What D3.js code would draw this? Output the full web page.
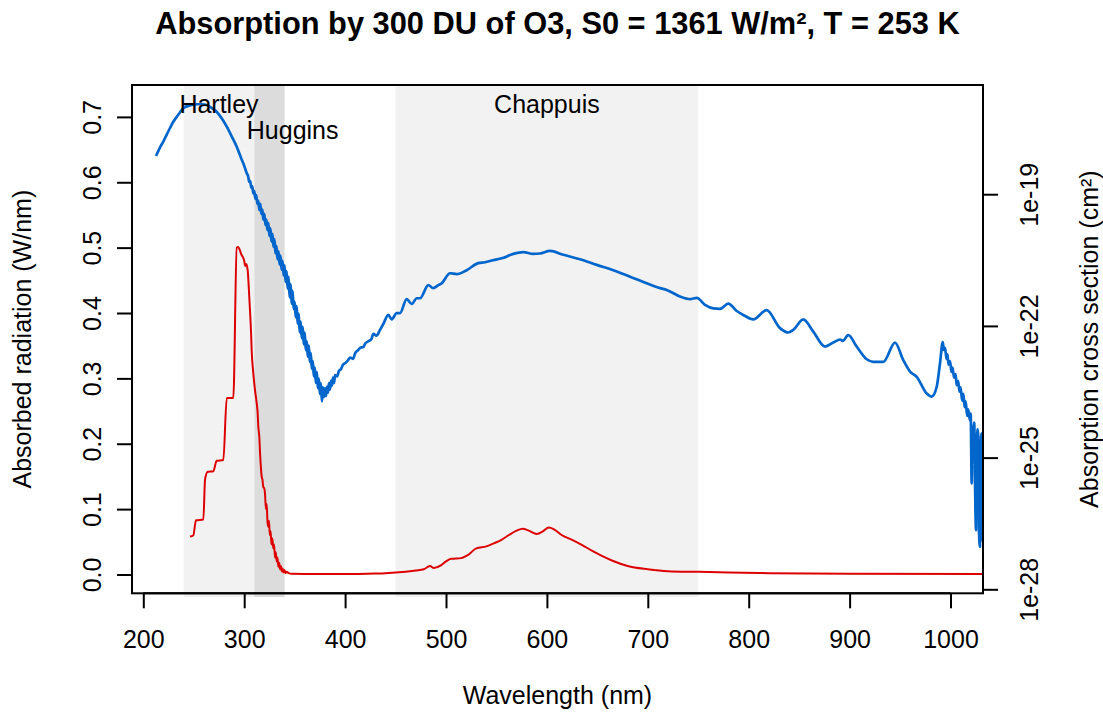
<!DOCTYPE html>
<html><head><meta charset="utf-8">
<script src="https://cdn.jsdelivr.net/npm/d3@7"></script>
<style>
body{margin:0;background:#fff}
svg{display:block}
text{font-family:"Liberation Sans",Arial,Helvetica,sans-serif;fill:#000}
</style>
</head><body>
<svg id="chart" width="1103" height="715"></svg>
<script>
// ---------------- data ----------------
const titleText = "Absorption by 300 DU of O3, S0 = 1361 W/m², T = 253 K";
const xLabel = "Wavelength (nm)";
const yLeftLabel = "Absorbed radiation (W/nm)";
const yRightLabel = "Absorption cross section (cm²)";

const xTicks = [200, 300, 400, 500, 600, 700, 800, 900, 1000];
const yLeftTicks = [0, 0.1, 0.2, 0.3, 0.4, 0.5, 0.6, 0.7];
const yLeftTickLabels = ["0.0", "0.1", "0.2", "0.3", "0.4", "0.5", "0.6", "0.7"];
const yRightTicks = [1e-28, 1e-25, 1e-22, 1e-19];
const yRightTickLabels = ["1e-28", "1e-25", "1e-22", "1e-19"];

const bandNames = ["Hartley", "Huggins", "Chappuis"];
const bandStart = [240, 310, 450];
const bandEnd = [310, 340, 750];
const bandLabelCenter = [275, 348, 600];
const bandLabelRow = [0, 1, 0];
const bandShade = ["#f2f2f2", "#dcdcdc", "#f2f2f2"];

// O3 absorption cross section (log10 of cm^2)
const sigmaWavelength = [
212.6,216,219.8,225,229.7,235,239.6,246,252.9,258,262.8,268,272.7,278,282.7,288,292.6,297,300,302.5,
304,305,306,307,308,309,310,311,312,313,314,315,316,317,318,319,320,321,322,323,324,325,326,327,328,329,
330,331,332,333,334,335,336,337,338,339,340,341,342,343,344,345,346,347,348,349,350,351,352,353,354,355,
356,357,358,359,360,361,362,363,364,365,366,367,368,369,370,371,372,373,374,375,376,377,378,379,380,381,
382,383,384,385,386,387,388,389,390,392,394,396,398,400,403,405,408,410,413,415,418,420,423,426,428,431,
434.6,438,442.8,446.2,451.1,454.4,461.0,466.0,471.0,474.2,482.5,487.4,492.4,495.7,504.0,510.6,520.5,532.0,
538.7,546.9,555.2,566.7,576.6,586.5,593.2,603.1,616.3,632.8,649.4,665.8,682.4,698.9,712.1,718.7,731.9,
741.8,748.5,756.7,764.9,771.6,779.8,788.1,794.6,804.6,817.8,831.0,839.2,844.2,854.1,864.0,875.6,883.8,
890.5,893.2,898.7,907.0,917.0,923.5,933.4,945.0,953.2,959.9,966.5,976.4,981.4,986.3,989.6,992.3,993.5,
994.6,996,997,998,999.5,1001,1002,1003.5,1005,1006.1,1007.5,1009,1010,1011.5,1012.7,1014,1015,1016.5,
1017.5,1019.3,1020,1021.0,1021.8,1022.6,1023.5,1024.3,1025.3,1026.0,1026.8,1027.5,1028.2,1029.2,1030,
1030.9,1031.7,1032.2];
const sigmaLog10 = [
-18.13,-17.96,-17.80,-17.56,-17.35,-17.18,-17.04,-16.98,-16.95,-16.95,-16.97,-17.04,-17.12,-17.28,-17.46,-17.70,-17.92,-18.18,-18.35,-18.52,
-18.60,-18.72,-18.70,-18.85,-18.82,-18.98,-18.93,-19.10,-19.02,-19.22,-19.15,-19.36,-19.22,-19.45,-19.35,-19.58,-19.45,-19.70,-19.58,-19.82,-19.66,-19.95,-19.78,-20.08,-19.90,-20.20,
-20.02,-20.35,-20.18,-20.48,-20.30,-20.60,-20.40,-20.72,-20.52,-20.85,-20.62,-21.00,-20.75,-21.15,-20.88,-21.35,-21.05,-21.50,-21.20,-21.62,-21.45,-21.80,-21.55,-21.95,-21.72,-22.15,
-21.90,-22.28,-22.02,-22.42,-22.15,-22.55,-22.35,-22.70,-22.45,-22.82,-22.62,-22.98,-22.80,-23.15,-22.95,-23.30,-23.05,-23.42,-23.20,-23.55,-23.30,-23.72,-23.40,-23.62,-23.42,-23.60,
-23.38,-23.52,-23.30,-23.45,-23.25,-23.36,-23.18,-23.30,-23.12,-23.15,-23.02,-22.98,-22.88,-22.85,-22.78,-22.72,-22.75,-22.62,-22.55,-22.50,-22.48,-22.40,-22.35,-22.30,-22.18,-22.22,
-22.09,-21.95,-21.75,-21.85,-21.71,-21.71,-21.39,-21.50,-21.37,-21.37,-21.07,-21.14,-21.07,-21.03,-20.80,-20.82,-20.73,-20.57,
-20.55,-20.50,-20.46,-20.36,-20.32,-20.36,-20.35,-20.29,-20.38,-20.48,-20.61,-20.73,-20.88,-21.03,-21.14,-21.18,-21.33,
-21.39,-21.36,-21.52,-21.60,-21.61,-21.49,-21.66,-21.75,-21.85,-21.64,-22.05,-22.15,-22.09,-21.85,-22.13,-22.47,-22.38,
-22.31,-22.34,-22.21,-22.47,-22.76,-22.82,-22.82,-22.38,-22.78,-23.04,-23.16,-23.54,-23.61,-23.39,-22.85,-22.37,-22.55,
-22.50,-22.75,-22.65,-22.88,-22.80,-23.05,-22.95,-23.18,-23.10,-23.35,-23.25,-23.50,-23.40,-23.70,-23.55,-23.85,-23.72,-24.05,
-23.90,-24.15,-24.00,-25.59,-24.30,-24.37,-24.20,-25.58,-26.65,-24.90,-24.35,-24.52,-26.65,-27.03,-24.60,
-24.45,-26.90,-24.50];

// Absorbed solar radiation (W/nm)
const absWavelength = [
246.3,249.6,252.2,259.5,261.2,263.8,269.4,272.7,279.3,282.7,289.2,292.6,294,295.5,297,298.5,300,301,302,303.5,
304.5,305.7,306.8,307.4,309,310.7,312.4,313.2,314,315,315.7,316.5,317.3,318.1,318.9,319.8,320.6,321.5,322.3,
323.1,323.9,324.6,325.4,326.2,327,327.9,328.8,329.6,330.5,331.3,332.2,333,333.8,334.7,335.5,336.4,337.2,338,
338.8,339.8,341,342.1,344,347,360,400,430,440,450,460,470,478,484,488,495,500,505,515,522,530,540,548,555,
562,570,576,582,590,596,602,607,615,625,635,645,655,665,680,700,720,750,780,820,900,1032.2];
const absWatts = [
0.058,0.060,0.083,0.084,0.145,0.157,0.158,0.174,0.175,0.270,0.270,0.500,0.501,0.497,0.490,0.486,0.480,0.472,0.475,0.465,
0.440,0.405,0.370,0.343,0.308,0.282,0.262,0.250,0.226,0.210,0.186,0.165,0.150,0.145,0.134,0.132,0.124,0.100,0.108,
0.080,0.073,0.082,0.060,0.066,0.046,0.055,0.040,0.046,0.026,0.034,0.020,0.026,0.012,0.018,0.008,0.013,0.005,0.009,
0.003,0.007,0.002,0.004,0.002,0.001,0.0008,0.0007,0.0015,0.002,0.003,0.004,0.006,0.008,0.013,0.010,0.014,0.020,0.024,0.025,0.030,0.040,0.043,0.048,0.053,
0.060,0.067,0.070,0.067,0.062,0.066,0.072,0.069,0.060,0.053,0.045,0.036,0.028,0.021,0.013,0.008,0.005,0.004,0.003,0.002,0.001,0.0008];

// ---------------- layout ----------------
const plotL = 132, plotR = 983, plotT = 85, plotB = 593.3;
const svg = d3.select("#chart");

const x = d3.scaleLinear().domain([188.8, 1032.2]).range([plotL, plotR]);
const yL = d3.scaleLinear().domain([-0.0288, 0.7488]).range([plotB, plotT]);
const yR = d3.scaleLog().domain([Math.pow(10, -28.091), Math.pow(10, -16.512)]).range([plotB, plotT]);

svg.append("defs").append("clipPath").attr("id", "clip")
  .append("rect").attr("x", plotL).attr("y", plotT).attr("width", plotR - plotL).attr("height", plotB - plotT);

// band shading
const bands = bandNames.map((n, i) => ({name: n, s: bandStart[i], e: bandEnd[i], c: bandLabelCenter[i], row: bandLabelRow[i], fill: bandShade[i]}));
svg.append("g").selectAll("rect").data(bands).join("rect")
  .attr("x", d => x(d.s)).attr("width", d => x(d.e) - x(d.s))
  .attr("y", plotT + 1).attr("height", 597 - plotT - 1)
  .attr("fill", d => d.fill);

// curves
const sigmaData = sigmaWavelength.map((w, i) => ({w, v: Math.pow(10, sigmaLog10[i])}));
const absData = absWavelength.map((w, i) => ({w, v: absWatts[i]}));

const g = svg.append("g").attr("clip-path", "url(#clip)");
g.append("path").datum(absData)
  .attr("fill", "none").attr("stroke", "#dd0000").attr("stroke-width", 2).attr("stroke-linejoin", "round")
  .attr("d", d3.line().curve(d3.curveMonotoneX).x(d => x(d.w)).y(d => yL(d.v)));
g.append("path").datum(sigmaData)
  .attr("fill", "none").attr("stroke", "#0066cc").attr("stroke-width", 2.7).attr("stroke-linejoin", "round")
  .attr("d", d3.line().curve(d3.curveMonotoneX).x(d => x(d.w)).y(d => yR(d.v)));

// band labels
svg.append("g").selectAll("text").data(bands).join("text")
  .attr("x", d => x(d.c)).attr("y", d => plotT + 28 + d.row * 26)
  .attr("text-anchor", "middle").attr("font-size", 25).text(d => d.name);

// box
svg.append("rect").attr("x", plotL).attr("y", plotT).attr("width", plotR - plotL).attr("height", plotB - plotT)
  .attr("fill", "none").attr("stroke", "#000").attr("stroke-width", 2);

// axes
const tickLen = 15;
const xAxis = d3.axisBottom(x).tickValues(xTicks).tickSize(tickLen).tickFormat(d3.format("d"));
const gx = svg.append("g").attr("transform", `translate(0,${plotB})`).call(xAxis);
gx.select(".domain").attr("d", `M${x(xTicks[0])},0H${x(xTicks[xTicks.length-1])}`).attr("stroke-width", 2);
gx.selectAll(".tick line").attr("stroke-width", 2);
gx.selectAll(".tick text").attr("font-size", 25).attr("font-family", "Liberation Sans, Arial, sans-serif").attr("dy", null).attr("y", 55);

const yAxisL = d3.axisLeft(yL).tickValues(yLeftTicks).tickSize(tickLen).tickFormat((d, i) => yLeftTickLabels[i]);
const gyl = svg.append("g").attr("transform", `translate(${plotL},0)`).call(yAxisL);
gyl.select(".domain").attr("d", `M0,${yL(yLeftTicks[0])}V${yL(yLeftTicks[yLeftTicks.length-1])}`).attr("stroke-width", 2);
gyl.selectAll(".tick line").attr("stroke-width", 2);
gyl.selectAll(".tick text").attr("font-size", 25).attr("font-family", "Liberation Sans, Arial, sans-serif")
  .attr("x", null).attr("dy", null).attr("text-anchor", "middle")
  .attr("transform", "translate(-31,0) rotate(-90)");

const yAxisR = d3.axisRight(yR).tickValues(yRightTicks).tickSize(tickLen).tickFormat((d, i) => yRightTickLabels[i]);
const gyr = svg.append("g").attr("transform", `translate(${plotR},0)`).call(yAxisR);
gyr.select(".domain").attr("d", `M0,${yR(yRightTicks[0])}V${yR(yRightTicks[yRightTicks.length-1])}`).attr("stroke-width", 2);
gyr.selectAll(".tick line").attr("stroke-width", 2);
gyr.selectAll(".tick text").attr("font-size", 25).attr("font-family", "Liberation Sans, Arial, sans-serif")
  .attr("x", null).attr("dy", null).attr("text-anchor", "middle")
  .attr("transform", "translate(55,0) rotate(-90)");

// titles
svg.append("text").attr("x", (plotL + plotR) / 2).attr("y", 34).attr("text-anchor", "middle")
  .attr("font-size", 30.8).attr("font-weight", "bold").text(titleText);
svg.append("text").attr("x", (plotL + plotR) / 2).attr("y", 704).attr("text-anchor", "middle")
  .attr("font-size", 25).text(xLabel);
svg.append("text").attr("transform", `translate(31,${(plotT + plotB) / 2}) rotate(-90)`).attr("text-anchor", "middle")
  .attr("font-size", 25).text(yLeftLabel);
svg.append("text").attr("transform", `translate(1098,${(plotT + plotB) / 2}) rotate(-90)`).attr("text-anchor", "middle")
  .attr("font-size", 25).text(yRightLabel);
</script>
</body></html>
